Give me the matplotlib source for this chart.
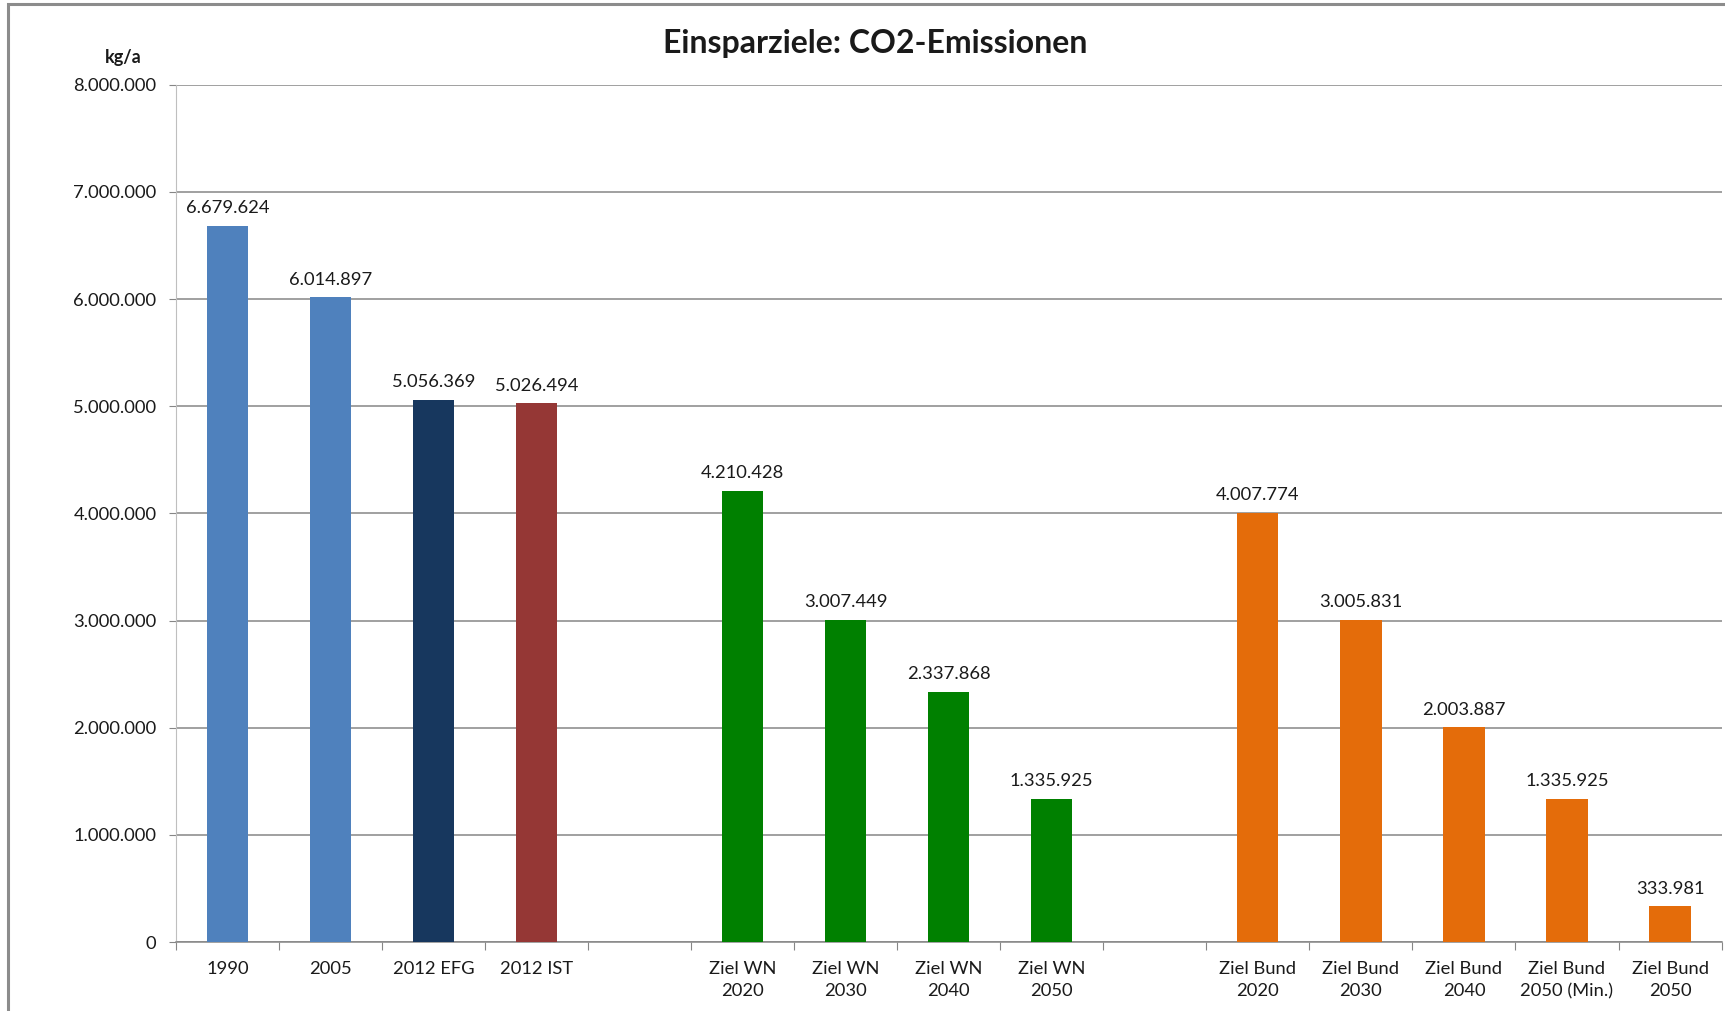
#!/usr/bin/env python
# -*- coding: utf-8 -*-

import matplotlib
matplotlib.use("Agg")
import matplotlib.pyplot as plt
from matplotlib.patches import Rectangle
from matplotlib.ticker import FuncFormatter, FixedLocator

# Daten
categories = ["1990", "2005", "2012 EFG", "2012 IST", "",
              "Ziel WN\n2020", "Ziel WN\n2030", "Ziel WN\n2040", "Ziel WN\n2050", "",
              "Ziel Bund\n2020", "Ziel Bund\n2030", "Ziel Bund\n2040",
              "Ziel Bund\n2050 (Min.)", "Ziel Bund\n2050"]
values = [6679624, 6014897, 5056369, 5026494, None,
          4210428, 3007449, 2337868, 1335925, None,
          4007774, 3005831, 2003887, 1335925, 333981]
bar_colors = ["#4F81BD", "#4F81BD", "#17375E", "#953735", None,
              "#008000", "#008000", "#008000", "#008000", None,
              "#E46C0A", "#E46C0A", "#E46C0A", "#E46C0A", "#E46C0A"]

title = "Einsparziele: CO2-Emissionen"
unit_label = "kg/a"

plt.rcParams['font.family'] = ['Lato', 'DejaVu Sans']


def de_format(v, pos=None):
    return f"{int(round(v)):,}".replace(",", ".")


fig = plt.figure(figsize=(17.25, 10.11), dpi=100)
ax = fig.add_axes([0.102, 0.0682, 0.896, 0.848])

# Rahmen der Grafik (links und oben sichtbar)
fig.patches.append(Rectangle((8 / 1725, -0.1), 1.2, 1.1 - 4 / 1011,
                             transform=fig.transFigure, fill=False,
                             edgecolor="#8C8C8C", linewidth=2.2, zorder=0))

xs = list(range(len(categories)))
for x, v, c in zip(xs, values, bar_colors):
    if v is None:
        continue
    ax.bar(x, v, width=0.4, color=c, zorder=3)
    ax.annotate(de_format(v), (x, v), xytext=(0, 7), textcoords="offset points",
                ha="center", va="bottom", fontsize=13.2, color="#1a1a1a")

ax.set_xlim(-0.5, len(categories) - 0.5)
ax.set_ylim(0, 8000000)

# Y-Achse
ax.yaxis.set_major_locator(FixedLocator(range(0, 8000001, 1000000)))
ax.yaxis.set_major_formatter(FuncFormatter(de_format))
ax.grid(axis="y", color="#868686", linewidth=1.1, zorder=0)
ax.tick_params(axis="y", length=5, color="#868686", labelsize=13.2, pad=9,
               labelcolor="#1a1a1a")

# X-Achse: Striche zwischen den Kategorien, Beschriftung in der Mitte
ax.set_xticks([x - 0.5 for x in range(len(categories) + 1)])
ax.set_xticklabels([])
ax.set_xticks(xs, minor=True)
ax.set_xticklabels(categories, minor=True, fontsize=13.2, color="#1a1a1a",
                   linespacing=1.45)
ax.tick_params(axis="x", which="minor", length=0, pad=14)
ax.tick_params(axis="x", which="major", length=6, color="#868686")

for s in ["top", "right"]:
    ax.spines[s].set_visible(False)
ax.spines["left"].set_color("#BFBFBF")
ax.spines["bottom"].set_color("#868686")
ax.spines["bottom"].set_linewidth(1.1)

fig.text(875 / 1725, 1 - 43 / 1011, title, ha="center", va="center",
         fontsize=23, fontweight="bold", color="#1a1a1a")
fig.text(123 / 1725, 1 - 57 / 1011, unit_label, ha="center", va="center",
         fontsize=13, fontweight="bold", color="#1a1a1a")

fig.savefig("out.png", dpi=100)
